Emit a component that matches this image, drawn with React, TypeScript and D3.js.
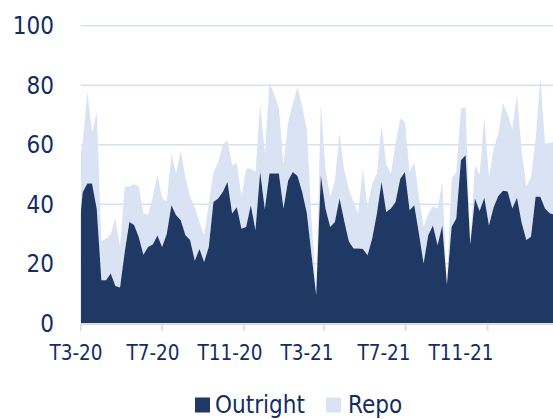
import React from "react";
import * as d3 from "d3";

// Outright volumes
const outright = [
  37, 44, 47, 47, 38.5, 14.5, 14.5, 16.7, 12.5, 12, 24, 34, 33, 29, 23, 25.6, 26.5, 29.5, 25.6, 30,
  39.7, 36.3, 34.6, 29.6, 28, 21, 25, 20.6, 25.6, 40.8, 41.9, 44.1, 47.5, 36.9, 39, 31.8, 32.4, 39.7, 31.3, 50.8,
  38.3, 50.3, 50.3, 50.3, 38.6, 48, 50.8, 49.5, 44.1, 37, 23, 9.5, 49.7, 38.5, 32.4, 34, 41.9, 34.5, 27.5, 25.1,
  25.1, 25, 22.9, 28.5, 36.9, 47.5, 37.4, 38.6, 40.8, 48.6, 50.8, 38, 39.7, 30.2, 20.1, 29.6, 32.9, 26.2, 32.9, 13,
  32.4, 35.2, 54.8, 56.5, 26.5, 41.9, 37.7, 42.2, 32.9, 39, 42.8, 44.5, 44.3, 38.6, 42.2, 33.8, 28, 29.1, 42.5, 42.5,
  38.6, 37, 36.5,
];

// Repo volumes (stacked on top of outright)
const repo = [
  20, 17, 31, 17, 32.5, 13, 14, 13.3, 23, 13.5, 22, 12, 13.7, 17, 14, 10.9, 15.9, 20.5, 16.4, 11,
  17.3, 14, 23.4, 19.4, 14.5, 18, 9, 9, 14.4, 10, 12.1, 15.9, 14, 16.1, 14.9, 10.7, 19.6, 12.3, 19.5, 23,
  18.7, 30.7, 26.7, 22.2, 14.8, 19.6, 23.2, 29.9, 28.9, 28.2, 12, 1, 24.3, 12.9, 10.1, 14, 22.1, 16.9, 17.5, 15.9,
  11.9, 27, 16.1, 18.5, 13.4, 19, 15.9, 11.7, 19.6, 20.2, 16.9, 12.8, 14.5, 12.3, 12.3, 7.3, 6.4, 12.3, 14.6, 0.5,
  16.2, 15.6, 17.4, 16.2, 1, 11.2, 12.3, 27.1, 16.1, 19.7, 20.7, 29.5, 25.9, 26.6, 34.8, 24.2, 18, 20.1, 19.5, 40,
  21.8, 23.7, 24.5,
];

const firstDate = new Date(2020, 2, 1);
const firstWeek = new Date(2020, 2, 4);
const dates: Date[] = [firstDate, ...d3.range(outright.length - 1).map((i) => d3.timeWeek.offset(firstWeek, i))];

const tickDates = [
  new Date(2020, 2, 1),
  new Date(2020, 6, 1),
  new Date(2020, 10, 1),
  new Date(2021, 2, 1),
  new Date(2021, 6, 1),
  new Date(2021, 10, 1),
];
const tickLabels = ["T3-20", "T7-20", "T11-20", "T3-21", "T7-21", "T11-21"];
const yTicks = [0, 20, 40, 60, 80, 100];
const seriesNames = ["Outright", "Repo"];

const W = 553;
const H = 419;
const left = 80.7;
const right = 553;
const top = 25.7;
const bottom = 323.3;

const COL_DARK = "#203864";
const COL_LIGHT = "#DAE3F3";
const TEXT = "#142C64";
const FONT = "'DejaVu Sans Condensed', 'Noto Sans', sans-serif";

export default function App() {
  const x = d3.scaleTime().domain([firstDate, new Date(2022, 1, 7)]).range([left, right]);
  const y = d3.scaleLinear().domain([0, 100]).range([bottom, top]);
  const labelX = d3.scalePoint<string>().domain(tickLabels).range([76, 461]);

  const rows = dates.map((d, i) => ({ date: d, outright: outright[i], repo: repo[i] }));
  const stacked = d3.stack<any>().keys(["outright", "repo"])(rows);
  const area = d3
    .area<any>()
    .x((d) => x(d.data.date))
    .y0((d) => y(d[0]))
    .y1((d) => y(d[1]));

  const colors = [COL_DARK, COL_LIGHT];

  return (
    <svg
      width={W}
      height={H}
      style={{ position: "absolute", left: 0, top: 0, background: "#fff" }}
      fontFamily={FONT}
    >
      <defs>
        <clipPath id="plotclip">
          <rect x={left} y={0} width={right - left} height={bottom} />
        </clipPath>
      </defs>
      {yTicks.slice(1).map((t) => (
        <line key={t} x1={left} x2={right} y1={y(t)} y2={y(t)} stroke="#D6E0F1" strokeWidth={1.6} />
      ))}
      <g clipPath="url(#plotclip)">
        {stacked
          .slice()
          .reverse()
          .map((s, i) => (
            <path key={s.key} d={area(s) || ""} fill={colors[stacked.length - 1 - i]} />
          ))}
      </g>
      <line x1={left} x2={right} y1={bottom + 0.8} y2={bottom + 0.8} stroke="#D9D9D9" strokeWidth={1.6} />
      {tickDates.map((d, i) => (
        <line key={i} x1={x(d)} x2={x(d)} y1={bottom + 1} y2={bottom + 7.5} stroke="#D9D9D9" strokeWidth={1.6} />
      ))}
      {yTicks.map((t) => (
        <text key={t} x={54} y={y(t)} dy="0.36em" textAnchor="end" fontSize={24} fill={TEXT}>
          {t}
        </text>
      ))}
      {tickLabels.map((l) => (
        <text key={l} x={labelX(l)} y={360} textAnchor="middle" fontSize={20.5} fill={TEXT}>
          {l}
        </text>
      ))}
      {seriesNames.map((n, i) => (
        <g key={n}>
          <rect x={i === 0 ? 195 : 326} y={397.5} width={15} height={15} fill={colors[i]} />
          <text x={i === 0 ? 215 : 348} y={413} fontSize={24} fill={TEXT}>
            {n}
          </text>
        </g>
      ))}
    </svg>
  );
}
